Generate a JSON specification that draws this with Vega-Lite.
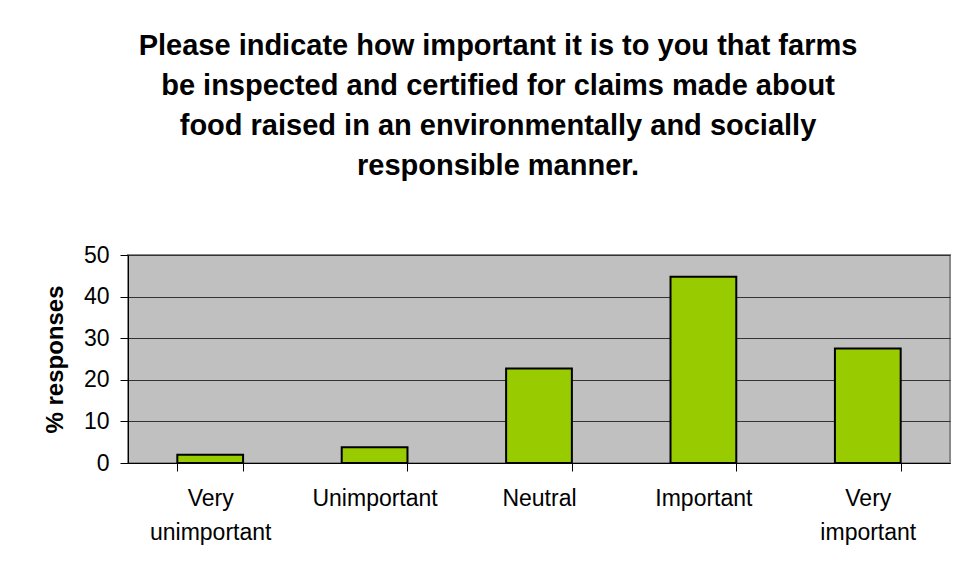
{
  "$schema": "https://vega.github.io/schema/vega-lite/v6.json",
  "width": 822,
  "height": 208,
  "autosize": {"type": "none"},
  "padding": {"left": 128, "top": 255, "right": 6, "bottom": 110},
  "background": "white",
  "title": {
    "text": ["Please indicate how important it is to you that farms", "be inspected and certified for claims made about", "food raised in an environmentally and socially", "responsible manner."],
    "font": "Liberation Sans",
    "fontSize": 29,
    "fontWeight": "bold",
    "lineHeight": 40,
    "color": "black",
    "anchor": "middle",
    "dx": -41,
    "offset": 63
  },
  "data": {
    "values": [
      {"category": "Very unimportant", "pct": 2.0},
      {"category": "Unimportant", "pct": 3.8},
      {"category": "Neutral", "pct": 22.7},
      {"category": "Important", "pct": 44.8},
      {"category": "Very important", "pct": 27.5}
    ]
  },
  "mark": {"type": "bar", "color": "#99cc00", "stroke": "black", "strokeWidth": 2},
  "encoding": {
    "x": {
      "field": "category",
      "type": "nominal",
      "sort": null,
      "scale": {"paddingInner": 0.6, "paddingOuter": 0.3},
      "axis": {
        "title": null,
        "labelAngle": 0,
        "labelExpr": "split(datum.label, ' ')",
        "labelFont": "Liberation Sans",
        "labelFontSize": 23,
        "labelLineHeight": 34,
        "labelColor": "black",
        "labelPadding": 16,
        "tickBand": "extent",
        "tickSize": 8,
        "tickColor": "black",
        "domainColor": "black",
        "grid": false
      }
    },
    "y": {
      "field": "pct",
      "type": "quantitative",
      "scale": {"domain": [0, 50]},
      "axis": {
        "title": "% responses",
        "titleFont": "Liberation Sans",
        "titleFontSize": 24,
        "titleFontWeight": "bold",
        "titleColor": "black",
        "titlePadding": 16,
        "values": [0, 10, 20, 30, 40, 50],
        "labelFont": "Liberation Sans",
        "labelFontSize": 23,
        "labelColor": "black",
        "labelPadding": 11,
        "tickSize": 8,
        "tickColor": "black",
        "domainColor": "black",
        "grid": true,
        "gridColor": "#333333",
        "gridWidth": 1
      }
    }
  },
  "config": {
    "view": {"fill": "#c0c0c0", "stroke": "#888888", "strokeWidth": 2}
  }
}
